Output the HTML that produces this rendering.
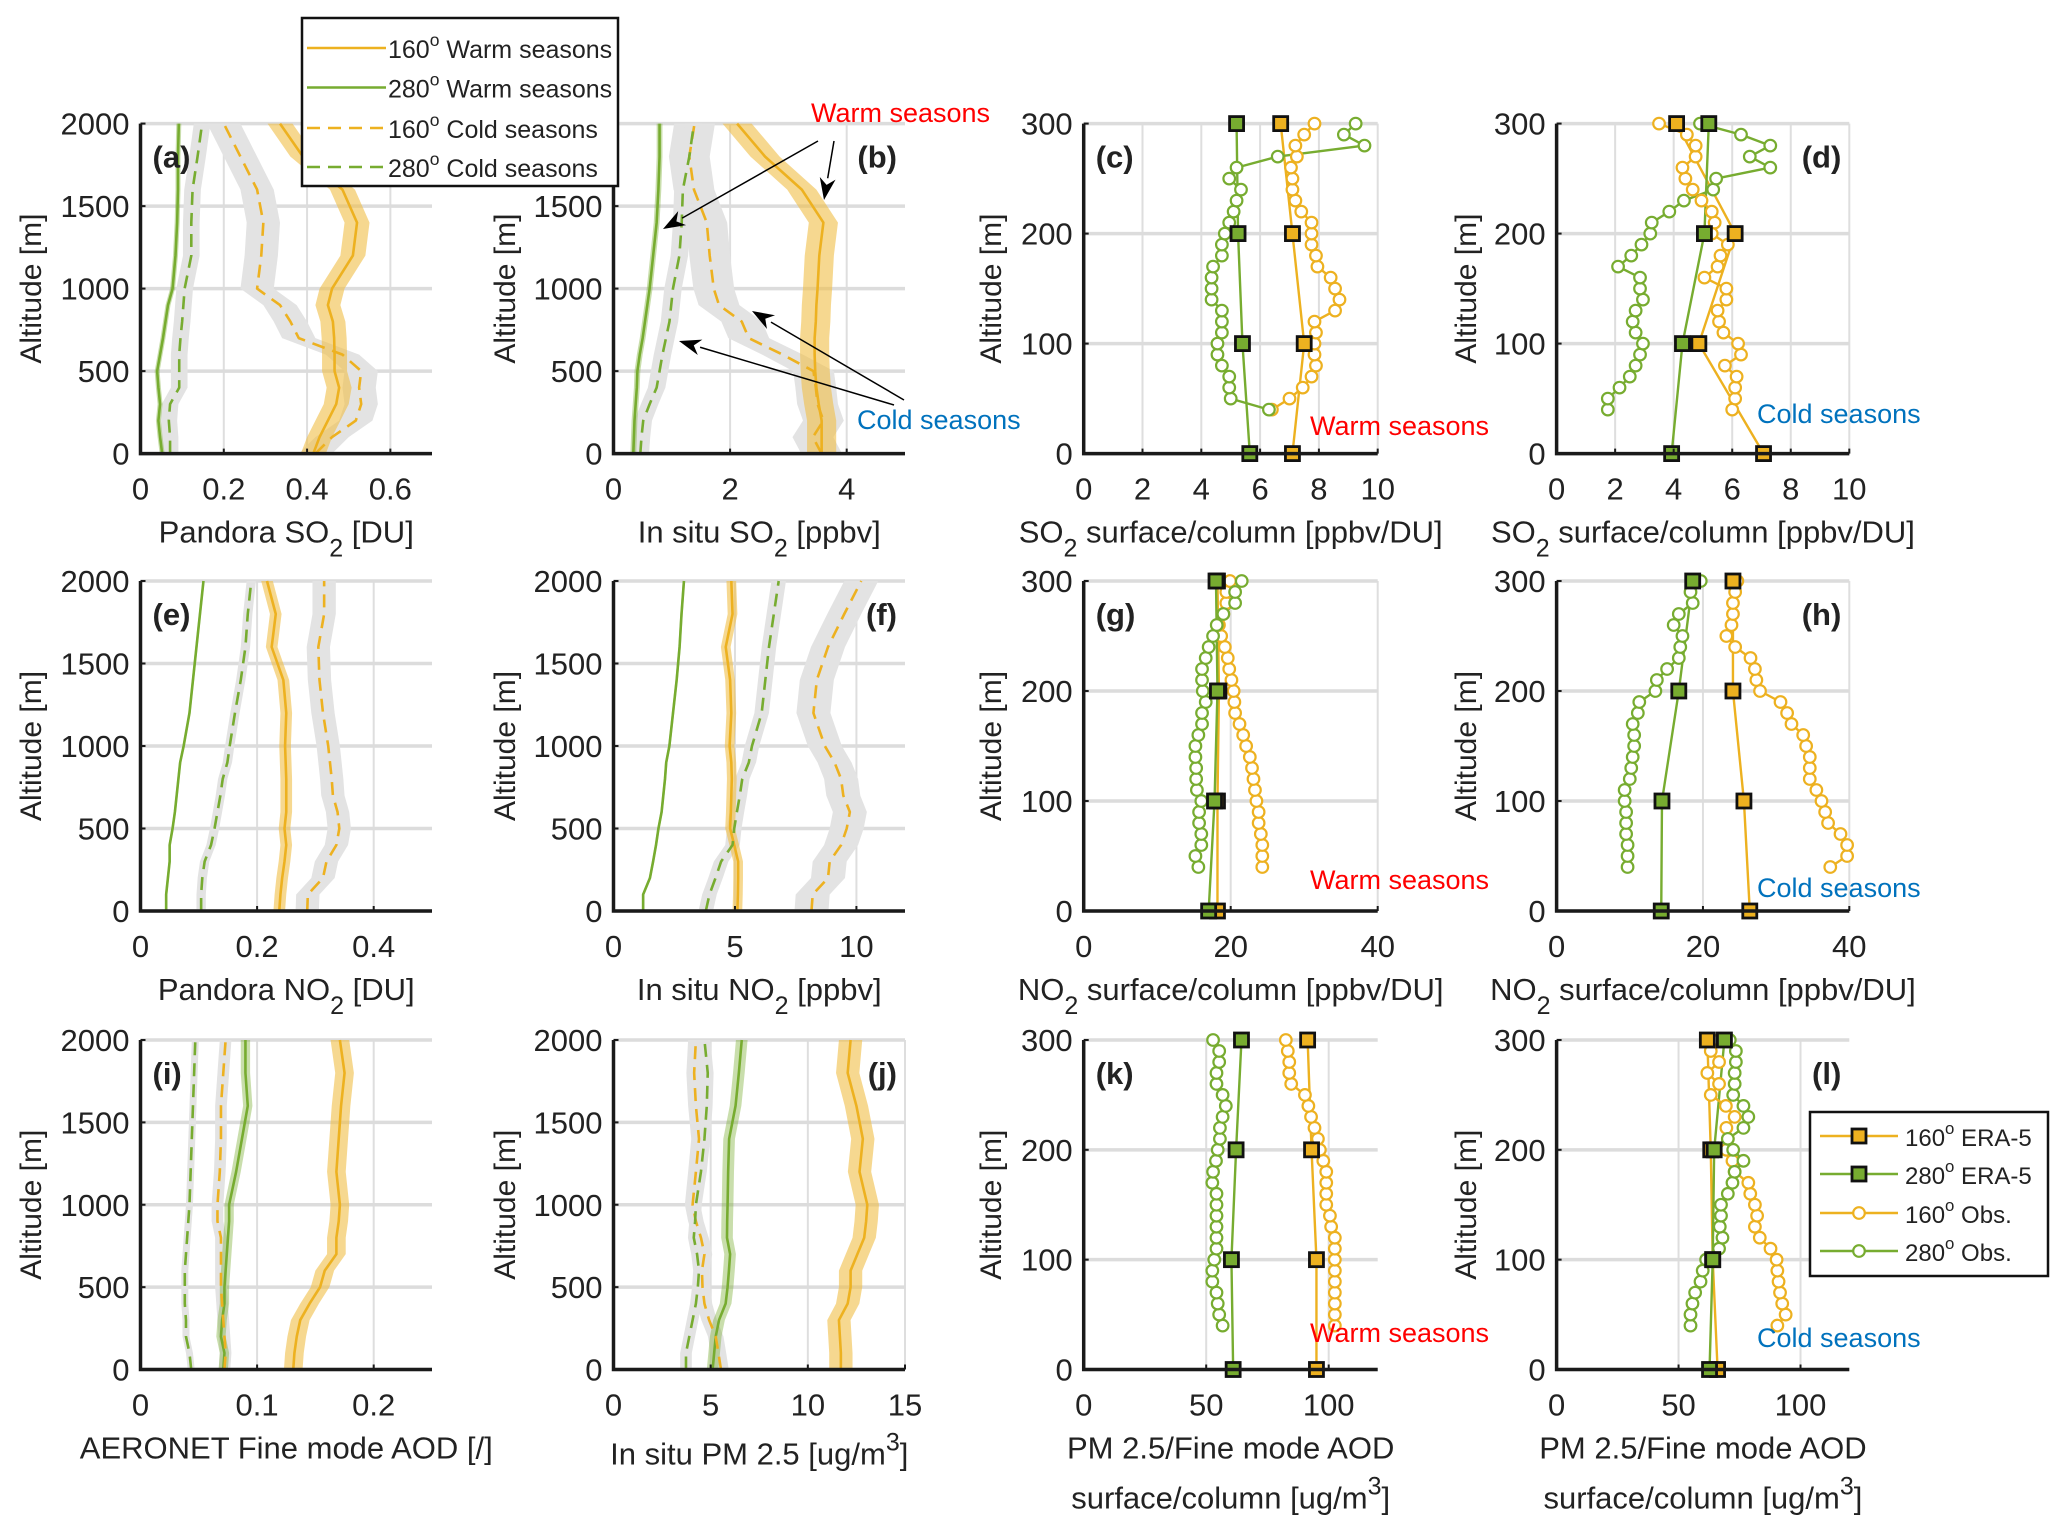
<!DOCTYPE html>
<html><head><meta charset="utf-8"><style>
html,body{margin:0;padding:0;background:#fff}
svg{display:block}
text{font-family:"Liberation Sans Narrow","Liberation Sans",sans-serif;fill:#222}
</style></head><body>
<svg id="fig" width="2067" height="1534" viewBox="0 0 2067 1534" xmlns="http://www.w3.org/2000/svg"></svg>
<script>
// ---------- data ----------
const profAlt=[0,100,200,300,400,500,600,700,800,900,1000,1200,1400,1600,1800,2000];
const aW160=[0.415,0.43,0.45,0.47,0.477,0.466,0.466,0.465,0.462,0.45,0.46,0.51,0.52,0.485,0.39,0.335];
const aW280=[0.052,0.047,0.043,0.047,0.043,0.04,0.047,0.054,0.06,0.066,0.077,0.084,0.088,0.09,0.09,0.092];
const aC160=[0.42,0.46,0.517,0.53,0.525,0.53,0.485,0.38,0.36,0.335,0.28,0.29,0.295,0.28,0.24,0.2];
const aC280=[0.071,0.071,0.068,0.071,0.093,0.093,0.093,0.096,0.1,0.103,0.106,0.122,0.122,0.125,0.137,0.148];
const aBand=[0.03,0.006,0.04,0.02];
const bW160=[3.57,3.57,3.57,3.52,3.48,3.46,3.45,3.45,3.47,3.48,3.5,3.53,3.6,3.23,2.6,2.12];
const bW280=[0.34,0.35,0.36,0.38,0.4,0.41,0.45,0.5,0.54,0.58,0.62,0.68,0.74,0.77,0.79,0.79];
const bC160=[3.57,3.42,3.6,3.5,3.47,3.43,2.9,2.32,2.2,1.81,1.72,1.65,1.6,1.38,1.3,1.39];
const bC280=[0.46,0.48,0.51,0.62,0.74,0.79,0.84,0.9,0.96,0.99,1.02,1.13,1.17,1.19,1.3,1.38];
const bBand=[0.25,0.05,0.35,0.15];
const eW160=[0.238,0.24,0.243,0.247,0.25,0.247,0.25,0.25,0.25,0.249,0.248,0.25,0.245,0.225,0.232,0.217];
const eW280=[0.044,0.044,0.047,0.05,0.05,0.055,0.059,0.062,0.065,0.068,0.074,0.084,0.09,0.096,0.102,0.108];
const eC160=[0.286,0.287,0.313,0.319,0.336,0.341,0.338,0.33,0.328,0.325,0.322,0.313,0.307,0.305,0.315,0.315];
const eC280=[0.104,0.104,0.106,0.11,0.121,0.127,0.132,0.137,0.141,0.149,0.153,0.162,0.172,0.18,0.184,0.19];
const eBand=[0.01,0.002,0.02,0.008];
const fW160=[5.1,5.12,5.13,5.13,4.97,4.8,4.83,4.85,4.87,4.85,4.78,4.85,4.8,4.62,4.9,4.85];
const fW280=[1.22,1.22,1.5,1.63,1.75,1.85,1.98,2.05,2.12,2.17,2.3,2.45,2.6,2.72,2.8,2.9];
const fC160=[8.15,8.2,8.83,8.9,9.37,9.6,9.73,9.46,9.37,9.1,8.7,8.23,8.37,8.83,9.5,10.2];
const fC280=[3.8,3.95,4.2,4.43,4.9,4.97,5.08,5.2,5.3,5.57,5.7,6.1,6.25,6.4,6.6,6.8];
const fBand=[0.2,0.05,0.7,0.3];
const iW160=[0.131,0.132,0.134,0.137,0.145,0.154,0.158,0.168,0.168,0.17,0.171,0.168,0.17,0.172,0.175,0.171];
const iW280=[0.071,0.072,0.069,0.07,0.072,0.072,0.073,0.074,0.075,0.076,0.076,0.082,0.087,0.092,0.09,0.09];
const iC160=[0.072,0.073,0.072,0.071,0.07,0.069,0.069,0.069,0.069,0.066,0.066,0.068,0.069,0.069,0.071,0.073];
const iC280=[0.0435,0.042,0.039,0.039,0.038,0.038,0.038,0.039,0.04,0.041,0.042,0.043,0.044,0.045,0.046,0.047];
const iBand=[0.008,0.004,0.005,0.003];
const jW160=[11.7,11.7,11.65,11.6,12.05,12.2,12.2,12.55,12.9,13.0,13.06,12.66,12.83,12.5,12.05,12.2];
const jW280=[5.1,5.18,5.26,5.43,5.77,5.87,5.94,6.0,5.84,5.85,5.87,5.9,5.95,6.28,6.45,6.6];
const jC160=[5.53,5.4,5.26,4.92,4.68,4.58,4.55,4.68,4.5,4.24,4.07,4.24,4.4,4.24,4.15,4.24];
const jC280=[3.73,3.73,3.9,4.07,4.24,4.34,4.4,4.3,4.13,4.2,4.24,4.5,4.68,4.8,4.85,4.68];
const jBand=[0.6,0.3,0.4,0.3];

const eraAlt=[0,100,200,300];
const obsAlt=[40,50,60,70,80,90,100,110,120,130,140,150,160,170,180,190,200,210,220,230,240,250,260,270,280,290,300];
const cObs160=[6.4,7.0,7.45,7.75,7.9,7.85,7.85,7.9,7.85,8.55,8.7,8.55,8.4,7.95,7.9,7.75,7.75,7.75,7.4,7.2,7.1,7.1,7.05,7.25,7.2,7.5,7.85];
const cObs280=[6.3,5.0,4.95,4.95,4.7,4.55,4.55,4.7,4.7,4.7,4.35,4.35,4.35,4.4,4.7,4.7,4.8,4.95,5.1,5.2,5.35,4.95,5.2,6.6,9.55,8.85,9.25];
const cEra160=[7.1,7.5,7.1,6.7];
const cEra280=[5.65,5.4,5.25,5.2];
const dObs160=[6.0,6.1,6.1,6.15,5.75,6.3,6.2,5.7,5.55,5.5,5.8,5.8,5.05,5.5,5.6,5.85,5.3,5.4,5.3,4.95,4.65,4.4,4.3,4.75,4.75,4.45,3.5];
const dObs280=[1.75,1.75,2.15,2.5,2.7,2.85,2.95,2.7,2.6,2.7,2.95,2.85,2.85,2.1,2.55,2.9,3.2,3.25,3.85,4.35,5.35,5.45,7.3,6.6,7.3,6.3,4.9];
const dEra160=[7.07,4.86,6.1,4.1];
const dEra280=[3.93,4.3,5.05,5.2];
const gObs160=[24.3,24.3,24.3,24.1,23.8,23.8,23.5,23.3,23.1,22.9,22.6,22.1,21.7,21.2,20.6,20.5,20.4,20.1,19.8,19.6,19.2,18.7,18.4,19.0,19.4,19.4,19.9];
const gObs280=[15.6,15.2,16,16,15.7,15.7,16,15.4,15.3,15.3,15.2,15.2,15.6,16.1,16.1,16.6,16.2,16.1,16.1,16.6,17.0,17.6,18.1,19.0,20.6,20.6,21.5];
const gEra160=[18.2,18.2,18.4,18.2];
const gEra280=[17.0,17.8,18.2,18.0];
const hObs160=[37.4,39.7,39.7,38.8,37.1,36.7,36.2,35.5,34.6,34.6,34.6,34.1,33.7,32.1,31.5,30.6,27.8,27.3,27.1,26.5,24.4,23.2,23.9,24.1,24.1,24.4,24.7];
const hObs280=[9.7,9.7,9.7,9.5,9.5,9.5,9.3,9.3,10,10.2,10.4,10.6,10.6,10.4,11.1,11.3,13.5,13.7,15.1,16.7,16.9,17.2,16.0,16.7,18.6,18.3,19.7];
const hEra160=[26.4,25.6,24.1,24.1];
const hEra280=[14.3,14.4,16.7,18.6];
const kObs160=[102.5,102.5,102.5,102.5,102.5,102.5,102.5,102.5,102.5,101,100.5,99,99,99,99,97.8,96.4,95.6,94.2,92.8,91.7,90.3,84.7,83.9,83.9,83.3,82.5];
const kObs280=[56.7,55.3,54.7,54.2,52.5,52.5,53.3,54.2,54.2,54.2,54.2,54.2,54.2,52.5,52.8,54,54.7,55.6,55.6,56.7,58,56.7,54.2,54.2,55.3,55.3,52.8];
const kEra160=[95,95,93,91.4];
const kEra280=[61,60.3,62.2,64.4];
const lObs160=[90.5,93.9,92.5,91.6,91,90.5,90.2,87.7,83.3,81.3,82.2,81.3,79.4,78.6,73,72.1,69.6,70.2,69.6,73,69.4,63.2,66.6,61.8,66.6,63.2,66.6];
const lObs280=[54.9,54.9,55.7,56.8,59,59.9,61.3,66.6,68,66.9,67.4,67.4,70.2,72.1,73,76.6,72.4,70.2,76.6,78.6,76.6,72.4,73,73,73.5,73.5,71];
const lEra160=[66,64,63.2,61.8];
const lEra280=[62.7,64,64.6,68.8];

const profTicksY=[0,500,1000,1500,2000];
const ratioTicksY=[0,100,200,300];

// ---------- helpers ----------
const NS='http://www.w3.org/2000/svg';
const svg=document.getElementById('fig');
const OR='#EDB120', GR='#77AC30';
function mk(tag,attrs,parent){const e=document.createElementNS(NS,tag);for(const k in attrs)e.setAttribute(k,attrs[k]);(parent||svg).appendChild(e);return e;}
const COLS=[[140.5,432],[613.5,905],[1083.7,1377.7],[1556.6,1849.3]];
const ROWS=[[123.6,453.6],[581,911],[1040,1369.5]];
const YLX=[31,505,991,1466];

function panel(letter,col,row,xmax,xticks,ymax,yticks,labelLeft){
  const [x0,x1]=COLS[col],[y0,y1]=ROWS[row];
  const g=mk('g',{});
  
  
  const P={g,x:v=>x0+(x1-x0)*v/xmax,y:v=>y1-(y1-y0)*v/ymax,x0,x1,y0,y1};
  xticks.forEach(t=>{const l=mk('line',{x1:P.x(t),x2:P.x(t),y1:y0,y2:y1,stroke:'#dedede','stroke-width':2},g);
    });
  yticks.forEach(t=>{const l=mk('line',{x1:x0,x2:x1,y1:P.y(t),y2:P.y(t),stroke:'#dcdcdc','stroke-width':3.5},g);
    });
  P.finish=function(){
    const ax=mk('path',{d:`M${x0},${y0} V${y1} H${x1}`,fill:'none',stroke:'#1a1a1a','stroke-width':3.5},g);
    
    xticks.forEach(t=>{mk('line',{x1:P.x(t),x2:P.x(t),y1:y1,y2:y1-5,stroke:'#1a1a1a','stroke-width':2},g);
      const tx=mk('text',{x:P.x(t),y:y1+46,'font-size':31,'text-anchor':'middle'},g);tx.textContent=t;
      });
    yticks.forEach(t=>{mk('line',{x1:x0,x2:x0+5,y1:P.y(t),y2:P.y(t),stroke:'#1a1a1a','stroke-width':2},g);
      const tx=mk('text',{x:x0-11,y:P.y(t)+11,'font-size':31,'text-anchor':'end'},g);tx.textContent=t;
      });
    const yl=mk('text',{x:YLX[col],y:(y0+y1)/2,'font-size':30,'text-anchor':'middle',transform:`rotate(-90 ${YLX[col]} ${(y0+y1)/2})`,style:'font-family:"Liberation Sans",sans-serif'},g);
    yl.textContent='Altitude [m]';yl.setAttribute('dy','10');
    
    const lx=labelLeft?x0+12:x1-8;
    const lt=mk('text',{x:lx,y:y0+44,'font-size':31,'font-weight':'bold','text-anchor':labelLeft?'start':'end'},g);
    lt.textContent='('+letter+')';
    
  };
  return P;
}
function xlabel(P,parts,dyLine){
  const t=mk('text',{x:(P.x0+P.x1)/2,y:P.y1+89+(dyLine||0),'font-size':31,'text-anchor':'middle'},P.g);
  parts.forEach(p=>{const s=mk('tspan',{},t);s.textContent=p[0];
    if(p[1]==='sub'){s.setAttribute('dy','14');s.setAttribute('font-size','25');}
    else if(p[1]==='sup'){s.setAttribute('dy','-14');s.setAttribute('font-size','25');}
    else if(p[1]==='back'){s.setAttribute('dy',p[2]);}});
  
  return t;
}
function band(P,vals,hw,color,name){
  let d='';vals.forEach((v,i)=>{d+=(i?'L':'M')+P.x(v-hw)+','+P.y(profAlt[i]);});
  for(let i=vals.length-1;i>=0;i--)d+='L'+P.x(vals[i]+hw)+','+P.y(profAlt[i]);
  const p=mk('path',{d:d+'Z',fill:color,stroke:'none'},P.g);
  
}
function line(P,xs,ys,color,dash,name,w){
  const d=xs.map((v,i)=>(i?'L':'M')+P.x(v)+','+P.y(ys[i])).join('');
  const p=mk('path',{d,fill:'none',stroke:color,'stroke-width':w||2.6,'stroke-linejoin':'round'},P.g);
  if(dash)p.setAttribute('stroke-dasharray','13 8');
  
}
function profile(P,w160,w280,c160,c280,bw){
  band(P,c160,bw[2],'#e3e3e3','band-cold-160');
  band(P,c280,bw[3],'#e3e3e3','band-cold-280');
  band(P,w160,bw[0],'rgba(240,190,70,0.6)','band-warm-160');
  band(P,w280,bw[1],'rgba(119,172,48,0.4)','band-warm-280');
  line(P,w160,profAlt,OR,false,'line-warm-160');
  line(P,w280,profAlt,GR,false,'line-warm-280');
  line(P,c160,profAlt,OR,true,'line-cold-160');
  line(P,c280,profAlt,GR,true,'line-cold-280');
}
function ratio(P,e160,e280,o160,o280){
  line(P,e160,eraAlt,OR,false,'line-era5-160',2.4);
  line(P,e280,eraAlt,GR,false,'line-era5-280',2.4);
  line(P,o160,obsAlt,OR,false,'line-obs-160',2.4);
  line(P,o280,obsAlt,GR,false,'line-obs-280',2.4);
  [[o160,OR,'obs-160-point'],[o280,GR,'obs-280-point']].forEach(([arr,c,n])=>arr.forEach((v,i)=>{
    const m=mk('circle',{cx:P.x(v),cy:P.y(obsAlt[i]),r:5.8,fill:'#fff',stroke:c,'stroke-width':2.2},P.g);
    }));
  [[e160,OR,'era5-160-point'],[e280,GR,'era5-280-point']].forEach(([arr,c,n])=>arr.forEach((v,i)=>{
    const m=mk('rect',{x:P.x(v)-7,y:P.y(eraAlt[i])-7,width:14,height:14,fill:c,stroke:'#111','stroke-width':2.8},P.g);
    }));
}
function note(x,y,txt,color,name){
  const t=mk('text',{x,y,'font-size':27,fill:color,style:'fill:'+color});t.textContent=txt;
  
}
function arrow(x1,y1,x2,y2){
  const a=Math.atan2(y2-y1,x2-x1),L=22,W=8;
  const g=mk('g',{});
  
  
  const bx=x2-L*Math.cos(a),by=y2-L*Math.sin(a);
  mk('line',{x1,y1,x2:bx,y2:by,stroke:'#000','stroke-width':1.5},g);
  const px=-Math.sin(a)*W,py=Math.cos(a)*W;
  mk('path',{d:`M${x2},${y2}L${bx+px},${by+py}L${bx+0.3*L*Math.cos(a)},${by+0.3*L*Math.sin(a)}L${bx-px},${by-py}Z`,fill:'#000'},g);
}

// ---------- panels ----------
let P;
P=panel('a',0,0,0.7,[0,0.2,0.4,0.6],2000,profTicksY,true);profile(P,aW160,aW280,aC160,aC280,aBand);P.finish();
xlabel(P,[['Pandora SO'],['2','sub'],[' [DU]','back','-14']]);
P=panel('b',1,0,5,[0,2,4],2000,profTicksY,false);profile(P,bW160,bW280,bC160,bC280,bBand);P.finish();
xlabel(P,[['In situ SO'],['2','sub'],[' [ppbv]','back','-14']]);
P=panel('c',2,0,10,[0,2,4,6,8,10],300,ratioTicksY,true);ratio(P,cEra160,cEra280,cObs160,cObs280);P.finish();
xlabel(P,[['SO'],['2','sub'],[' surface/column [ppbv/DU]','back','-14']]);
P=panel('d',3,0,10,[0,2,4,6,8,10],300,ratioTicksY,false);ratio(P,dEra160,dEra280,dObs160,dObs280);P.finish();
xlabel(P,[['SO'],['2','sub'],[' surface/column [ppbv/DU]','back','-14']]);
P=panel('e',0,1,0.5,[0,0.2,0.4],2000,profTicksY,true);profile(P,eW160,eW280,eC160,eC280,eBand);P.finish();
xlabel(P,[['Pandora NO'],['2','sub'],[' [DU]','back','-14']]);
P=panel('f',1,1,12,[0,5,10],2000,profTicksY,false);profile(P,fW160,fW280,fC160,fC280,fBand);P.finish();
xlabel(P,[['In situ NO'],['2','sub'],[' [ppbv]','back','-14']]);
P=panel('g',2,1,40,[0,20,40],300,ratioTicksY,true);ratio(P,gEra160,gEra280,gObs160,gObs280);P.finish();
xlabel(P,[['NO'],['2','sub'],[' surface/column [ppbv/DU]','back','-14']]);
P=panel('h',3,1,40,[0,20,40],300,ratioTicksY,false);ratio(P,hEra160,hEra280,hObs160,hObs280);P.finish();
xlabel(P,[['NO'],['2','sub'],[' surface/column [ppbv/DU]','back','-14']]);
P=panel('i',0,2,0.25,[0,0.1,0.2],2000,profTicksY,true);profile(P,iW160,iW280,iC160,iC280,iBand);P.finish();
xlabel(P,[['AERONET Fine mode AOD [/]']]);
P=panel('j',1,2,15,[0,5,10,15],2000,profTicksY,false);profile(P,jW160,jW280,jC160,jC280,jBand);P.finish();
xlabel(P,[['In situ PM 2.5 [ug/m'],['3','sup'],[']','back','14']],6);
P=panel('k',2,2,120,[0,50,100],300,ratioTicksY,true);ratio(P,kEra160,kEra280,kObs160,kObs280);P.finish();
xlabel(P,[['PM 2.5/Fine mode AOD']]);xlabel(P,[['surface/column [ug/m'],['3','sup'],[']','back','14']],50);
P=panel('l',3,2,120,[0,50,100],300,ratioTicksY,false);ratio(P,lEra160,lEra280,lObs160,lObs280);P.finish();
xlabel(P,[['PM 2.5/Fine mode AOD']]);xlabel(P,[['surface/column [ug/m'],['3','sup'],[']','back','14']],50);

// ---------- annotations ----------
note(811,122,'Warm seasons','#ff0000','warm-seasons-note-b');
arrow(818,141,663,229);arrow(834,141,824,200);
note(857,429,'Cold seasons','#0072BD','cold-seasons-note-b');
arrow(904,400,752,311);arrow(894,405,679,341);
note(1310,435,'Warm seasons','#ff0000','warm-seasons-note-c');
note(1757,423,'Cold seasons','#0072BD','cold-seasons-note-d');
note(1310,889,'Warm seasons','#ff0000','warm-seasons-note-g');
note(1757,897,'Cold seasons','#0072BD','cold-seasons-note-h');
note(1310,1342,'Warm seasons','#ff0000','warm-seasons-note-k');
note(1757,1347,'Cold seasons','#0072BD','cold-seasons-note-l');

// ---------- legends ----------
function legend(x,y,w,h,items,name){
  const g=mk('g',{});
  
  
  mk('rect',{x,y,width:w,height:h,fill:'#fff',stroke:'#111','stroke-width':2.5},g);
  items.forEach(it=>{
    const e=mk('g',{},g);
    
    
    const l=mk('line',{x1:it.lx1,x2:it.lx2,y1:it.y,y2:it.y,stroke:it.c,'stroke-width':2.6},e);
    if(it.dash)l.setAttribute('stroke-dasharray','13 8');
    if(it.m==='sq')mk('rect',{x:(it.lx1+it.lx2)/2-7,y:it.y-7,width:14,height:14,fill:it.c,stroke:'#111','stroke-width':2.8},e);
    if(it.m==='ci')mk('circle',{cx:(it.lx1+it.lx2)/2,cy:it.y,r:5.8,fill:'#fff',stroke:it.c,'stroke-width':2.2},e);
    const t=mk('text',{x:it.tx,y:it.y+10,'font-size':it.fs},e);
    const a=mk('tspan',{},t);a.textContent=it.n;
    const s=mk('tspan',{dy:-12,'font-size':it.fs*0.7},t);s.textContent='o';
    const b=mk('tspan',{dy:12},t);b.textContent=' '+it.t;
  });
}
legend(302,18,316,168,[
 {y:48,c:OR,dash:false,n:'160',t:'Warm seasons'},
 {y:87.5,c:GR,dash:false,n:'280',t:'Warm seasons'},
 {y:128,c:OR,dash:true,n:'160',t:'Cold seasons'},
 {y:167,c:GR,dash:true,n:'280',t:'Cold seasons'}].map(o=>Object.assign(o,{lx1:307,lx2:386,tx:388,fs:25})),'legend-seasons');
legend(1810,1112,238,164,[
 {y:1136,c:OR,m:'sq',n:'160',t:'ERA-5'},
 {y:1174,c:GR,m:'sq',n:'280',t:'ERA-5'},
 {y:1213,c:OR,m:'ci',n:'160',t:'Obs.'},
 {y:1251,c:GR,m:'ci',n:'280',t:'Obs.'}].map(o=>Object.assign(o,{lx1:1820,lx2:1898,tx:1905,fs:24})),'legend-sources');
</script>
</body></html>
